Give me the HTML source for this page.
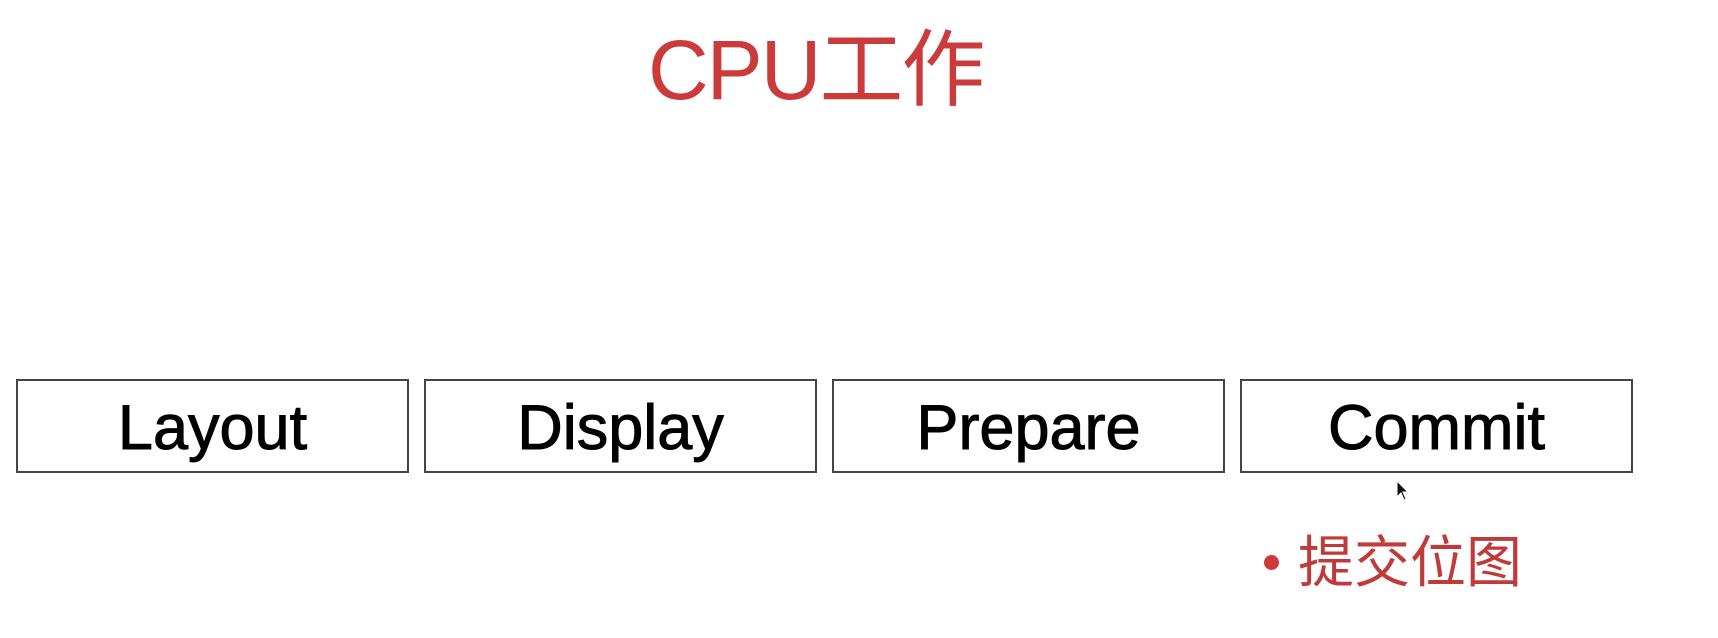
<!DOCTYPE html>
<html><head><meta charset="utf-8"><style>
html,body{margin:0;padding:0;background:#fff;width:1718px;height:638px;overflow:hidden;position:relative;font-family:"Liberation Sans","Noto Sans CJK SC",sans-serif}
.t{position:absolute;left:648px;top:20px;font-size:84px;color:#cc3b3b;line-height:100px;white-space:nowrap;letter-spacing:-2px}
.b{position:absolute;top:379px;height:94px;width:393px;border:2px solid #444;box-sizing:border-box;display:flex;align-items:center;justify-content:center;font-size:63px;color:#000;padding-top:4px;-webkit-text-stroke:1px #000}
.d{position:absolute;left:1264px;top:555px;width:15px;height:15px;border-radius:50%;background:#cc3b3b}
.c{position:absolute;left:1298px;top:530px;font-size:56px;color:#c03a3a;line-height:66px;white-space:nowrap}
</style></head><body>
<div class="t">CPU工作</div>
<div class="b" style="left:16px">Layout</div>
<div class="b" style="left:424px">Display</div>
<div class="b" style="left:832px">Prepare</div>
<div class="b" style="left:1240px">Commit</div>
<svg style="position:absolute;left:1396px;top:480px" width="16" height="24"><path d="M1 1 L1 17 L5 13 L8 20 L10 19 L7 12 L12 12 Z" fill="#111" stroke="#fff" stroke-width="1"/></svg>
<div class="d"></div>
<div class="c">提交位图</div>
</body></html>
